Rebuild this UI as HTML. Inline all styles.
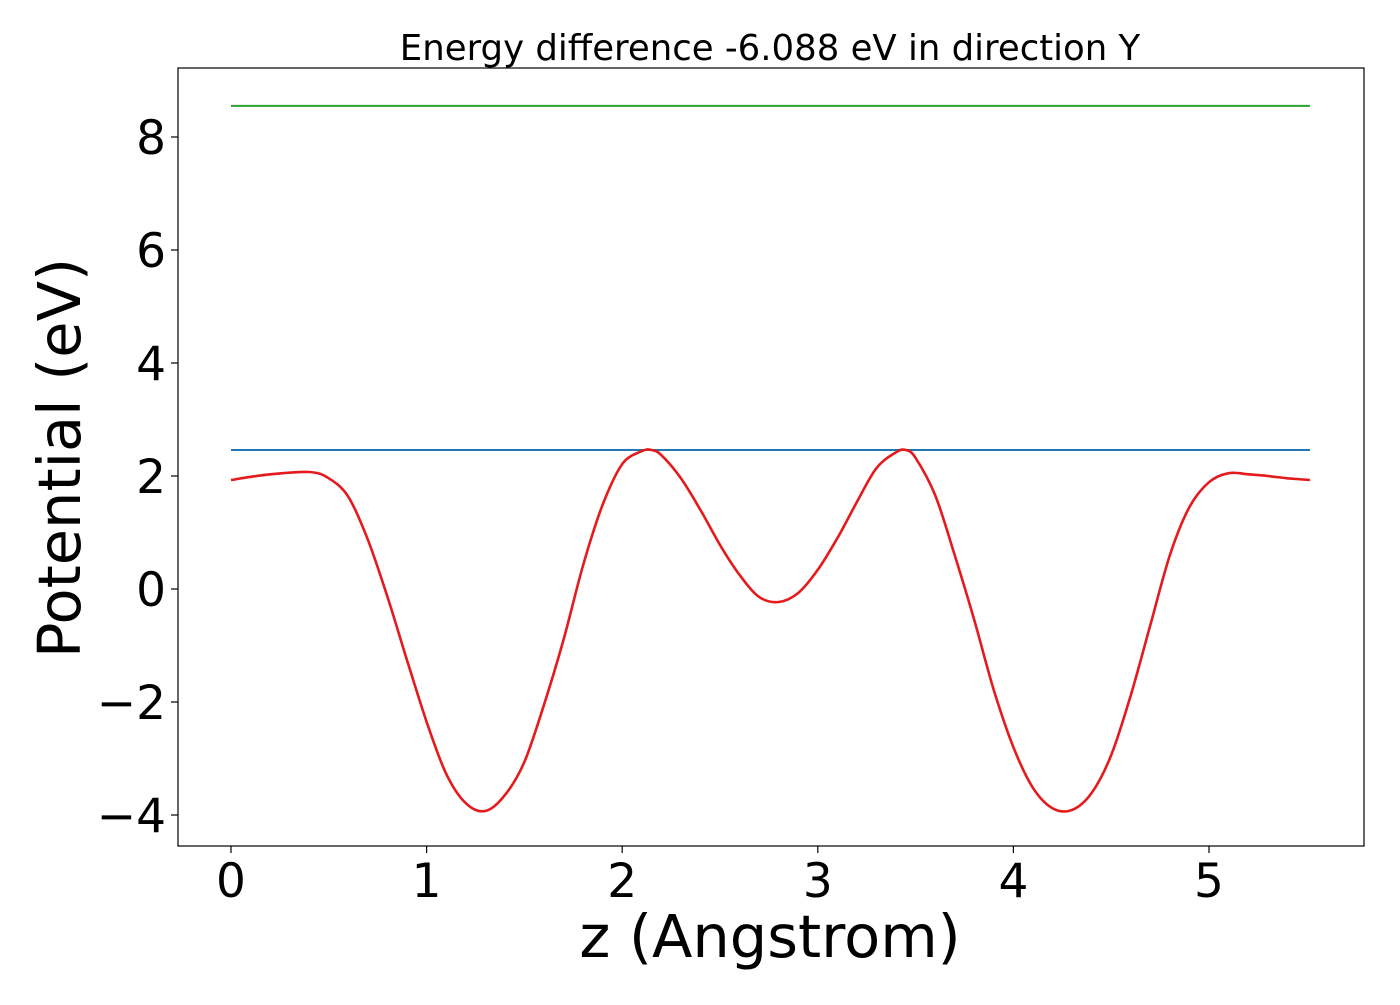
<!DOCTYPE html>
<html><head><meta charset="utf-8"><style>
body{margin:0;background:#fff;}
svg text{font-family:"DejaVu Sans","Liberation Sans",sans-serif;fill:#000;}
</style></head><body>
<svg id="chart" width="1400" height="1000" xmlns="http://www.w3.org/2000/svg">
<rect x="0" y="0" width="1400" height="1000" fill="#fff"/>
<text x="770" y="60" font-size="35.5" text-anchor="middle">Energy difference -6.088 eV in direction Y</text>
<g id="plot"></g>
<rect x="178" y="68" width="1186" height="778" fill="none" stroke="#000" stroke-width="1.2"/>
<text x="770" y="957" font-size="59" text-anchor="middle">z (Angstrom)</text>
<text transform="translate(80,458) rotate(-90)" font-size="59" text-anchor="middle">Potential (eV)</text>
</svg>
<script>
const xTicks=[0,1,2,3,4,5];
const yTicks=[8,6,4,2,0,-2,-4];
const blueLevel=2.46;
const greenLevel=8.55;
const zVals=[0,0.2,0.4,0.5,0.6,0.7,0.8,0.9,1.0,1.1,1.2,1.3,1.4,1.5,1.6,1.7,1.8,1.9,2.0,2.1,2.15,2.2,2.3,2.4,2.5,2.6,2.7,2.8,2.9,3.0,3.1,3.2,3.3,3.4,3.45,3.5,3.6,3.7,3.8,3.9,4.0,4.1,4.2,4.3,4.4,4.5,4.6,4.7,4.8,4.9,5.0,5.1,5.2,5.3,5.4,5.516];
const potVals=[1.93,2.03,2.07,1.96,1.63,0.87,-0.14,-1.26,-2.35,-3.27,-3.79,-3.93,-3.65,-3.06,-2.05,-0.9,0.42,1.49,2.21,2.44,2.46,2.37,1.96,1.4,0.78,0.25,-0.14,-0.23,-0.07,0.34,0.9,1.54,2.14,2.42,2.46,2.32,1.66,0.6,-0.55,-1.79,-2.8,-3.52,-3.88,-3.91,-3.61,-2.94,-1.88,-0.64,0.6,1.45,1.89,2.05,2.03,2.0,1.96,1.93];
const sx=v=>231+v*195.6;
const sy=v=>589-v*56.5;
const NS="http://www.w3.org/2000/svg";
const g=document.getElementById('plot');
function mk(t,a){const e=document.createElementNS(NS,t);for(const k in a)e.setAttribute(k,a[k]);g.appendChild(e);return e;}
xTicks.forEach(t=>{
  const l=mk('line',{x1:sx(t),x2:sx(t),y1:846,y2:853,stroke:'#000','stroke-width':1.2});
  
  
  const tx=mk('text',{x:sx(t),y:897,'font-size':47,'text-anchor':'middle'});
  tx.textContent=String(t);
  
  
});
yTicks.forEach(t=>{
  const l=mk('line',{x1:171,x2:178,y1:sy(t),y2:sy(t),stroke:'#000','stroke-width':1.2});
  
  
  const tx=mk('text',{x:166,y:sy(t)+17,'font-size':47,'text-anchor':'end'});
  tx.textContent=t<0?'\u2212'+Math.abs(t):String(t);
  
  
});
const x0=sx(zVals[0]),x1=sx(zVals[zVals.length-1]);
const gl=mk('line',{x1:x0,x2:x1,y1:sy(greenLevel),y2:sy(greenLevel),stroke:'#2ca02c','stroke-width':2});


const bl=mk('line',{x1:x0,x2:x1,y1:sy(blueLevel),y2:sy(blueLevel),stroke:'#1f77b4','stroke-width':2});


const P=zVals.map((z,i)=>[sx(z),sy(potVals[i])]);
let d='M'+P[0][0].toFixed(1)+','+P[0][1].toFixed(1);
for(let i=0;i<P.length-1;i++){
  const p0=P[Math.max(i-1,0)],p1=P[i],p2=P[i+1],p3=P[Math.min(i+2,P.length-1)];
  const c1x=p1[0]+(p2[0]-p0[0])/6,c1y=p1[1]+(p2[1]-p0[1])/6;
  const c2x=p2[0]-(p3[0]-p1[0])/6,c2y=p2[1]-(p3[1]-p1[1])/6;
  d+=' C'+c1x.toFixed(1)+','+c1y.toFixed(1)+' '+c2x.toFixed(1)+','+c2y.toFixed(1)+' '+p2[0].toFixed(1)+','+p2[1].toFixed(1);
}
const pl=mk('path',{d:d,fill:'none',stroke:'#e41a1c','stroke-width':2.6,'stroke-linejoin':'round'});


</script>
</body></html>
